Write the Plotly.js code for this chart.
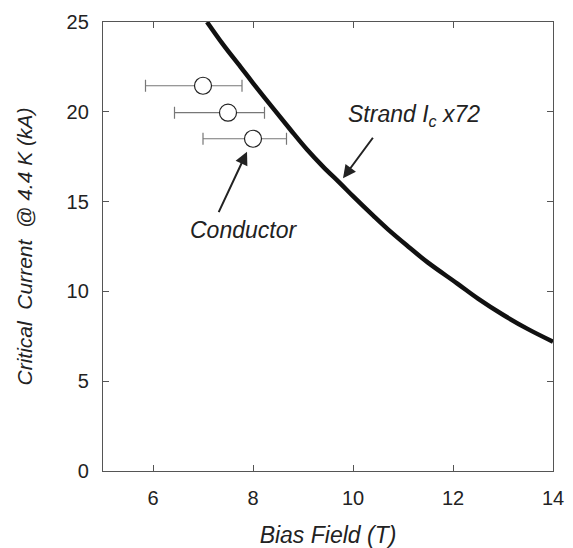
<!DOCTYPE html>
<html><head><meta charset="utf-8">
<script src="https://cdn.plot.ly/plotly-3.0.1.min.js"></script>
<style>html,body{margin:0;padding:0;background:#fff}</style>
</head><body>
<div id="chart" style="width:573px;height:548px"></div>
<script>
// Strand Ic x72 curve
const strandField = [7.08, 7.4, 7.75, 8.0, 8.4, 8.75, 9.08, 9.4, 9.75, 10.0, 10.41, 10.7, 11.08, 11.5, 12.08, 12.5, 13.0, 13.5, 14.0];
const strandCurrent = [25.0, 23.75, 22.5, 21.6, 20.2, 19.0, 17.9, 16.95, 16.0, 15.3, 14.2, 13.45, 12.55, 11.6, 10.45, 9.6, 8.7, 7.9, 7.2];
// Conductor measurements
const condField = [7.0, 7.5, 8.0];
const condCurrent = [21.45, 19.95, 18.5];
const condErrPlus = [0.78, 0.73, 0.67];
const condErrMinus = [1.15, 1.07, 1.0];
const xTicks = [6, 8, 10, 12, 14];
const yTicks = [0, 5, 10, 15, 20, 25];

const FONT = 'Liberation Sans, Arial, Helvetica, sans-serif';
const traces = [
  {x: strandField, y: strandCurrent, mode: 'lines', type: 'scatter',
   line: {color: '#111', width: 4.5, shape: 'spline', smoothing: 1}, hoverinfo: 'skip'},
  {x: condField, y: condCurrent, mode: 'markers', type: 'scatter',
   marker: {symbol: 'circle', size: 17, color: '#fff', line: {color: '#222', width: 1.2}},
   error_x: {type: 'data', symmetric: false, array: condErrPlus, arrayminus: condErrMinus,
             color: '#777', thickness: 1.2, width: 6}}
];
const axisCommon = {
  showgrid: false, zeroline: false, showline: true, linecolor: '#555', linewidth: 1.2,
  mirror: 'ticks', ticks: 'inside', ticklen: 6, tickcolor: '#555', tickwidth: 1,
  tickfont: {family: FONT, size: 20, color: '#222'}, automargin: false
};
const layout = {
  width: 573, height: 548,
  margin: {l: 103, r: 20, t: 22, b: 77},
  paper_bgcolor: '#fff', plot_bgcolor: '#fff',
  showlegend: false,
  xaxis: Object.assign({}, axisCommon, {
    range: [5, 14], tickvals: xTicks, ticktext: xTicks.map(String), ticklabelstandoff: 9,
    title: {text: '<i>Bias Field (T)</i>', font: {family: FONT, size: 23, color: '#222'}, standoff: 20}
  }),
  yaxis: Object.assign({}, axisCommon, {
    range: [0, 25], tickvals: yTicks, ticktext: yTicks.map(String), ticklabelstandoff: 9,
    title: {text: '<i>Critical  Current  @ 4.4 K (kA)</i>', font: {family: FONT, size: 21, color: '#222'}, standoff: 28}
  }),
  annotations: [
    {x: 9.85, y: 19.8, xref: 'x', yref: 'y', xanchor: 'left', yanchor: 'middle',
     text: '<i>Strand I<sub>c</sub> x72</i>', showarrow: false,
     font: {family: FONT, size: 23, color: '#222'}},
    {x: 9.8, y: 16.3, xref: 'x', yref: 'y', text: '', showarrow: true,
     ax: 31, ay: -42, arrowhead: 2, arrowsize: 1.3, arrowwidth: 2, arrowcolor: '#222'},
    {x: 7.81, y: 13.42, xref: 'x', yref: 'y', xanchor: 'center', yanchor: 'middle',
     text: '<i>Conductor</i>', showarrow: false,
     font: {family: FONT, size: 23, color: '#222'}},
    {x: 7.88, y: 17.78, xref: 'x', yref: 'y', text: '', showarrow: true,
     ax: -29, ay: 62, arrowhead: 2, arrowsize: 1.3, arrowwidth: 2, arrowcolor: '#222'}
  ]
};
Plotly.newPlot('chart', traces, layout, {displayModeBar: false, staticPlot: true});
</script>
</body></html>
